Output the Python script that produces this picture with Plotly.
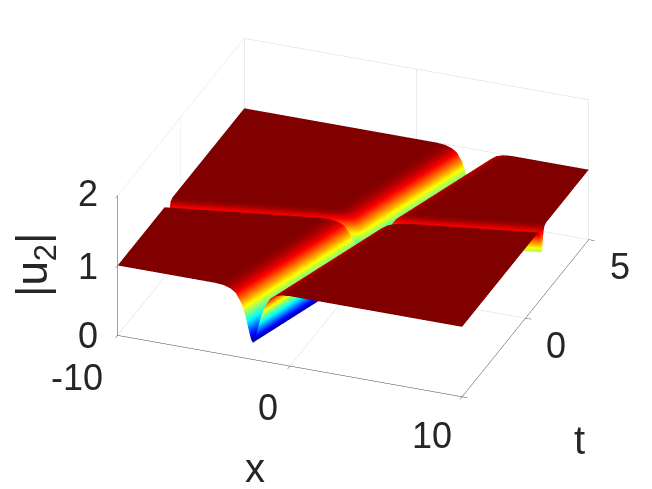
import numpy as np
import plotly.graph_objects as go

x_ticks = [-10, 0, 10]
t_ticks = [-5, 0, 5]
t_labels = ["", "0", "5"]
z_ticks = [0, 1, 2]

# dark-soliton track and line-soliton track
trough_slope, trough_shift = 0.55, 0.6     # x = slope*t + shift
line_slope, line_shift = 0.115, 0.15       # t = slope*x + shift

# offsets across each track (None = the outer edge of the domain)
trough_offsets = [None, -2.2, -1.7, -1.3, -1.0, -0.7, -0.45, -0.25, -0.1, 0, 0.1, 0.25, 0.45, 0.7, 1.0, 1.3, 1.7, 2.2, None]
line_offsets = [None, -0.32, -0.19, -0.115, -0.07, -0.035, 0, 0.035, 0.07, 0.115, 0.19, 0.32, None]

plateau = [1, 1, .99, .96, .91, .79, .62, .42, .28, .24, .28, .42, .62, .79, .91, .96, .99, 1, 1]
u2_rows = [
    plateau,
    plateau,
    [.975, .975, .965, .936, .887, .770, .605, .41, .273, .24, .273, .41, .605, .770, .887, .936, .965, .975, .975],
    [.90, .90, .89, .865, .82, .71, .56, .38, .27, .24, .27, .38, .56, .71, .82, .865, .89, .90, .90],
    [.80, .80, .79, .77, .73, .64, .50, .35, .26, .24, .26, .35, .50, .64, .73, .77, .79, .80, .80],
    [.70, .70, .69, .67, .64, .56, .44, .32, .26, .24, .26, .32, .44, .56, .64, .67, .69, .70, .70],
    [.65, .65, .645, .625, .59, .52, .41, .30, .25, .24, .25, .30, .41, .52, .59, .625, .645, .65, .65],
    [.70, .70, .69, .67, .64, .56, .44, .32, .26, .24, .26, .32, .44, .56, .64, .67, .69, .70, .70],
    [.80, .80, .79, .77, .73, .64, .50, .35, .26, .24, .26, .35, .50, .64, .73, .77, .79, .80, .80],
    [.90, .90, .89, .865, .82, .71, .56, .38, .27, .24, .27, .38, .56, .71, .82, .865, .89, .90, .90],
    [.975, .975, .965, .936, .887, .770, .605, .41, .273, .24, .273, .41, .605, .770, .887, .936, .965, .975, .975],
    plateau,
    plateau,
]

jet = [[0, "#00008f"], [0.125, "#0000ff"], [0.375, "#00ffff"], [0.625, "#ffff00"], [0.875, "#ff0000"], [1, "#800000"]]


def grid_point(row, col):
    """Crossing of one line-track row with one trough-track column."""
    p, o = line_offsets[row], trough_offsets[col]
    if p is None:
        t = -5.0 if row == 0 else 5.0
        x = -10.0 if (o is None and col == 0) else 10.0 if o is None else trough_slope * t + trough_shift + o
    elif o is None:
        x = -10.0 if col == 0 else 10.0
        t = line_slope * x + line_shift + p
    else:
        x = (trough_slope * (line_shift + p) + trough_shift + o) / (1 - trough_slope * line_slope)
        t = line_slope * x + line_shift + p
    return x, t


X = np.zeros((len(line_offsets), len(trough_offsets)))
T = np.zeros_like(X)
for i in range(len(line_offsets)):
    for j in range(len(trough_offsets)):
        X[i, j], T[i, j] = grid_point(i, j)
Z = np.array(u2_rows, dtype=float)

surface = go.Surface(
    x=X, y=T, z=Z, surfacecolor=Z, colorscale=jet, cmin=0.24, cmax=1.0, showscale=False,
    lighting=dict(ambient=1, diffuse=0, specular=0, roughness=1, fresnel=0),
    hoverinfo="skip",
)

FONT = dict(family="Liberation Sans, Arial", size=36, color="#262626")
TITLE_FONT = dict(family="Liberation Sans, Arial", size=40, color="#262626")
ZTITLE_FONT = dict(family="Liberation Sans, Arial", size=44, color="#262626")


def axis(vals, rng):
    return dict(
        range=rng, tickvals=vals, showticklabels=False,
        title=dict(text=""), showbackground=False, showgrid=True, gridcolor="#d8d8d8", gridwidth=1,
        showline=True, linecolor="#444444", linewidth=1, ticks="outside", ticklen=6, tickcolor="#444444",
        showspikes=False, zeroline=False,
    )


def label(x, y, z, text, dx, dy, font=FONT, **kw):
    return dict(x=x, y=y, z=z, text=text, showarrow=False, font=font, xshift=dx, yshift=dy, **kw)


annotations = [label(-10, -5, z, str(z), -30, dy) for z, dy in zip(z_ticks, [0, -1, 2])]
annotations += [label(x, -5, 0, str(x), dx, dy) for x, dx, dy in zip(x_ticks, [-41, -22, -30], [-42, -41, -39])]
annotations += [label(10, t, 0, s, 31, -27) for t, s in zip(t_ticks, t_labels) if s]
annotations += [
    label(0, -5, 0, "x", -35, -102, font=TITLE_FONT),
    label(10, 0, 0, "t", 54, -122, font=TITLE_FONT),
    label(-10, -5, 1, "|u<sub>2</sub>|", -82, 0, font=ZTITLE_FONT, textangle=-90),
]

center = dict(x=-0.0494, y=-0.091, z=-0.1258)
eye_dir = dict(x=0.415, y=-1.095, z=0.624)

scene = dict(
    xaxis=axis(x_ticks, [-10, 10]),
    yaxis=axis(t_ticks, [-5, 5]),
    zaxis=axis(z_ticks, [0, 2]),
    aspectmode="manual",
    aspectratio=dict(x=1.507, y=1.462, z=0.648),
    camera=dict(
        projection=dict(type="orthographic"),
        eye={k: eye_dir[k] + center[k] for k in center},
        center=center,
        up=dict(x=0, y=0, z=1),
    ),
    annotations=annotations,
    domain=dict(x=[0, 1], y=[0, 1]),
)

fig = go.Figure(surface)
fig.update_layout(width=652, height=489, margin=dict(l=0, r=0, t=0, b=0), paper_bgcolor="white", scene=scene)
fig.write_html("out.html")
